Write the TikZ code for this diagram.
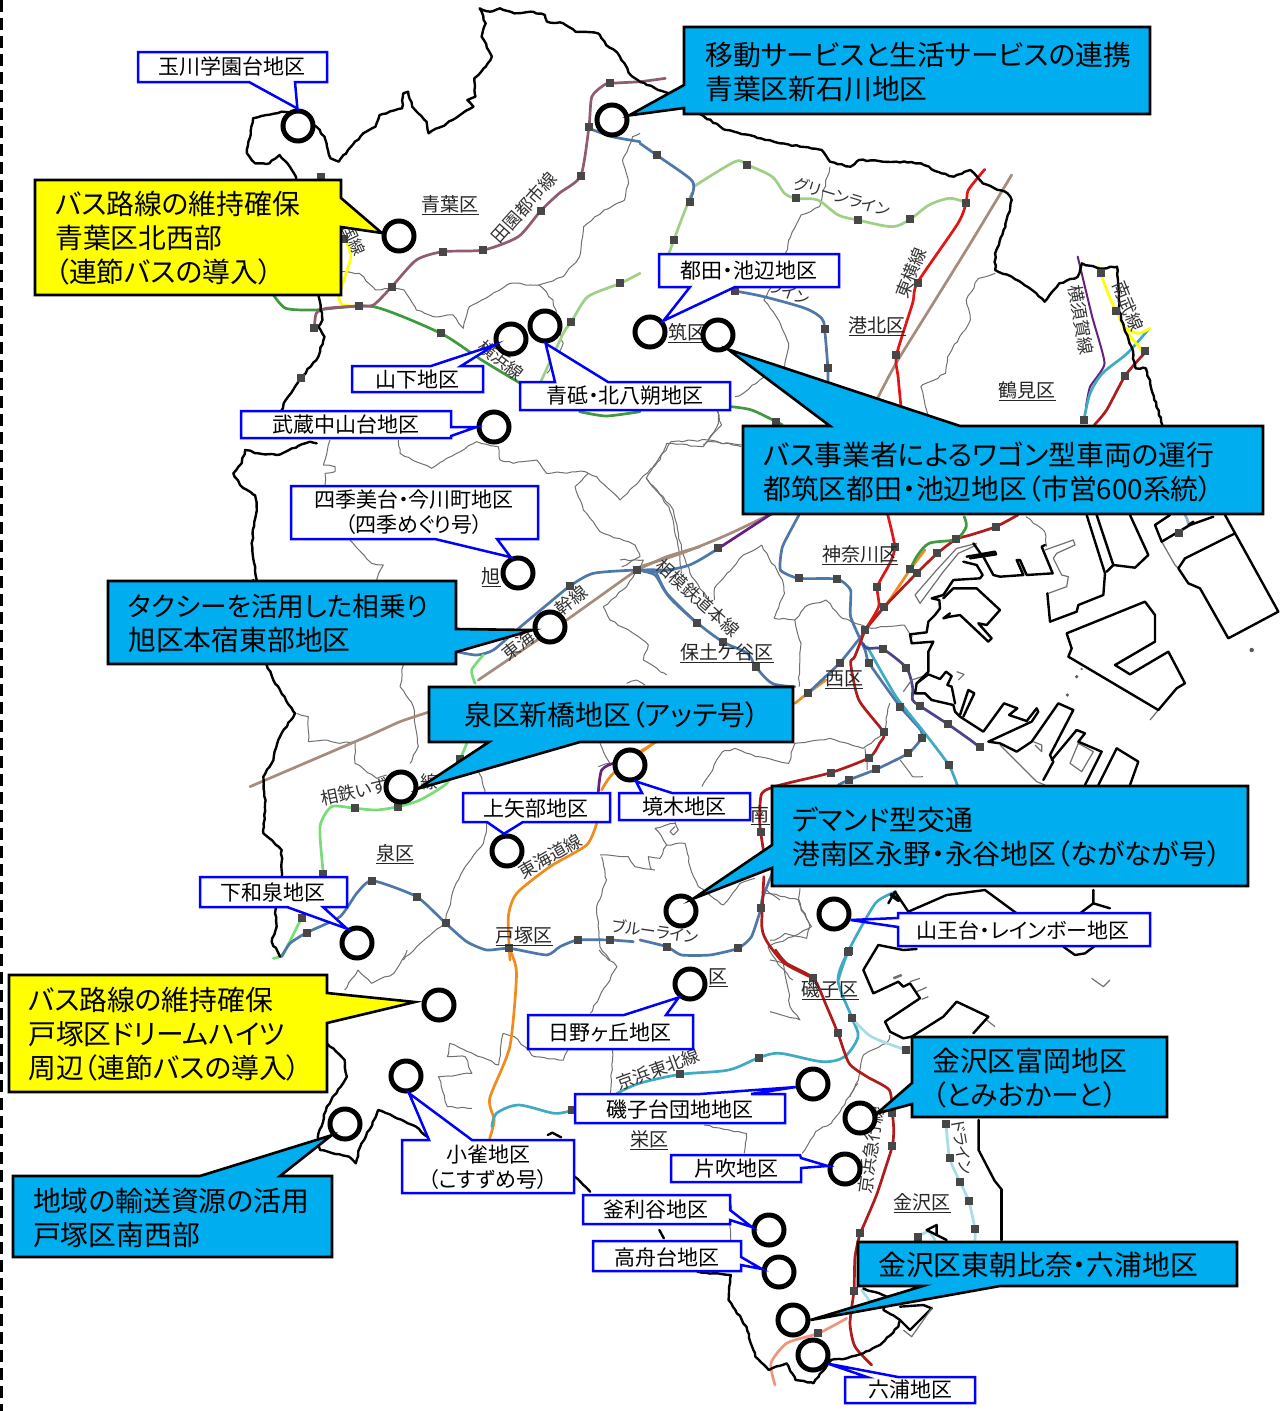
\documentclass[tikz,border=0pt]{standalone}
\usepackage{fontspec}
\usetikzlibrary{decorations.pathmorphing}
\setmainfont{Noto Sans CJK JP}[RawFeature=+palt]
\definecolor{cbl}{HTML}{00AEEF}
\definecolor{cye}{HTML}{FFFF00}
\definecolor{clb}{HTML}{0000FF}
\definecolor{rblue}{HTML}{4F78A8}
\definecolor{rgreen}{HTML}{3F9A3F}
\definecolor{rlgreen}{HTML}{A0D088}
\definecolor{rizu}{HTML}{78DC78}
\definecolor{rred}{HTML}{E01515}
\definecolor{rdred}{HTML}{B01C1C}
\definecolor{rteal}{HTML}{3FAAC4}
\definecolor{rltl}{HTML}{A8DCE6}
\definecolor{rorg}{HTML}{F08C1E}
\definecolor{rbrn}{HTML}{A58C7C}
\definecolor{rden}{HTML}{905C74}
\definecolor{rpur}{HTML}{66207F}
\definecolor{rnav}{HTML}{4A4488}
\definecolor{rcor}{HTML}{F0957F}
\definecolor{wardc}{HTML}{707070}
\tikzset{
 z1/.style={x=0.40816pt,y=-0.33333pt},
 z2/.style={shift={(640,130)},x=0.41294pt,y=-0.33333pt},
 z3/.style={shift={(640,500)},x=0.41294pt,y=-0.33333pt},
 z4/.style={shift={(200,480)},x=0.33333pt,y=-0.33333pt},
 z5/.style={shift={(300,950)},x=0.44643pt,y=-0.33333pt},
 za/.style={shift={(860,515)},x=0.33333pt,y=-0.33333pt},
 zb/.style={shift={(770,880)},x=0.33333pt,y=-0.33333pt},
 zc/.style={shift={(230,410)},x=0.33333pt,y=-0.33333pt},
 zd/.style={shift={(780,1190)},x=0.33333pt,y=-0.33333pt},
 ze/.style={shift={(560,810)},x=0.33333pt,y=-0.33333pt},
 ward/.style={draw=wardc,line width=1pt,line join=round,decorate,decoration={random steps,segment length=5pt,amplitude=0.9pt}},
 gline/.style={draw=wardc,line width=1.2pt,line join=round},
 bound/.style={draw=black,line width=2.4pt,line join=round,line cap=round,decorate,decoration={random steps,segment length=4pt,amplitude=0.8pt}},
 coast/.style={draw=black,line width=2.4pt,line join=round,line cap=round},
 rail/.style={line width=2.7pt,line cap=round,line join=round},
 stn/.style={fill=black!72,draw=none,minimum size=8pt,inner sep=0pt,rectangle},
 maptxt/.style={inner sep=0pt,font=\fontsize{17.5}{17.5}\selectfont,text=black!80},
 kanatxt/.style={inner sep=0pt,font=\fontsize{16}{16}\selectfont,text=black!80},
 wname/.style={inner sep=0pt,font=\fontsize{19}{19}\selectfont,text=black!85},
 ring/.style={circle,draw=black,fill=white,line width=5pt,minimum size=30pt,inner sep=0pt},
 callb/.style={draw=black,fill=cbl,line width=2.6pt,line join=miter},
 cally/.style={draw=black,fill=cye,line width=2.6pt,line join=miter},
 lab/.style={draw=clb,fill=white,line width=2.5pt,line join=miter},
 ctxt/.style={anchor=west,inner sep=0pt,align=left,font=\fontsize{27.8}{34}\selectfont},
 ltxt/.style={inner sep=0pt,align=center,font=\fontsize{21}{25}\selectfont},
}
\newcommand\stns[1]{\foreach \p in {#1}{\node[stn] at \p {};}}
\begin{document}
\begin{tikzpicture}[x=1pt,y=-1pt]
\fill[white] (0,0) rectangle (1285,1411);
\useasboundingbox (0,0) rectangle (1285,1411);
\draw[black,line width=2.6pt,dash pattern=on 12pt off 6pt] (1.5,0) -- (1.5,1411);

% ---- ward boundaries
\begin{scope}[z1]
\draw[ward] (835,815)--(880,820)--(920,870)--(960,865)--(990,870)--(1020,930)--(1060,950)--(1110,945)--(1135,985)--(1150,920)--(1190,895)--(1250,850)--(1320,855)--(1355,900)--(1365,960)--(1380,1030)--(1340,1120);
\draw[ward] (1320,855)--(1380,830)--(1420,770)--(1430,680)--(1480,630)--(1530,600)--(1540,550)--(1525,480)--(1550,410)--(1568,400);
\end{scope}
\begin{scope}[zc]
\draw[ward] (300,90)--(280,165)--(315,170)--(315,185)--(285,190)--(285,225);
\draw[ward] (505,90)--(510,130)--(605,175)--(650,145)--(740,95)--(805,110)--(810,150)--(850,160)--(920,150)--(950,190)--(1065,185)--(1075,190)--(1100,200)--(1170,270)--(1230,210)--(1290,150)--(1310,100)--(1420,110)--(1430,95)--(1535,105);
\draw[ward] (1420,105)--(1475,45)--(1460,0);
\draw[ward] (1075,190)--(1035,230)--(1060,300)--(1110,365)--(1215,405)--(1230,440)--(1175,470);
\draw[ward] (1250,205)--(1330,300)--(1355,420)--(1385,500)--(1430,560);
\draw[ward] (360,390)--(425,460)--(460,465)--(440,510);
\end{scope}
\begin{scope}[z2]
\draw[ward] (460,110)--(435,230)--(390,255)--(360,330)--(350,390)--(300,510)--(330,560)--(360,640)--(350,710)--(290,750)--(250,790)--(230,800);
\draw[ward] (190,845)--(190,880)--(165,930)--(75,935)--(15,1045)--(70,1130)--(90,1230)--(100,1330);
\draw[ward] (165,930)--(245,950);
\draw[ward] (860,430)--(820,445)--(790,510)--(800,570)--(745,680)--(740,730)--(680,770)--(700,880);
\end{scope}
\begin{scope}[z3]
\draw[ward] (295,135)--(250,165)--(180,265)--(180,300);
\draw[ward] (295,135)--(345,240)--(350,280)--(325,355)--(375,360)--(400,320)--(450,300)--(490,355)--(560,385)--(640,375)--(660,410);
\draw[ward] (375,360)--(390,430)--(385,560);
\draw[ward] (935,50)--(980,95)--(985,140);
\draw[ward] (375,730)--(460,715)--(540,745)--(590,700)--(605,610);
\draw[ward] (375,730)--(360,790)--(280,770)--(230,745)--(200,755)--(150,860);
\draw[ward] (545,745)--(550,810);
\draw[ward] (630,780)--(660,830)--(685,830);
\draw[ward] (305,1180)--(350,1190)--(385,1200)--(390,1230)--(415,1280)--(370,1310)--(310,1340)--(340,1400)--(370,1440);
\end{scope}
\begin{scope}[ze]
\draw[ward] (345,35)--(355,60)--(340,75)--(330,65)--(345,50);
\draw[ward] (345,40)--(285,55)--(310,90)--(320,105)--(375,100)--(390,170)--(415,230)--(470,270)--(490,285)--(540,220)--(585,205);
\draw[ward] (320,105)--(300,145)--(265,140)--(275,180);
\draw[ward] (120,135)--(205,140)--(225,170)--(285,180);
\draw[ward] (620,240)--(660,270);
\end{scope}
\begin{scope}[z4]
\draw[ward] (610,555)--(600,620)--(640,680)--(650,760)--(655,800)--(630,850);
\draw[ward] (290,700)--(325,710)--(325,785)--(380,780)--(420,790)--(465,785)--(465,850)--(530,895)--(560,885);
\draw[ward] (1280,610)--(1310,600)--(1335,615);
\draw[ward] (1260,240)--(1330,240)--(1280,320)--(1210,380)--(1230,420)--(1300,460)--(1345,495)--(1330,540)--(1400,585);
\draw[ward] (800,840)--(830,850)--(855,930)--(860,1040)--(850,1090)--(790,1170)--(760,1230)--(735,1330)--(650,1400)--(610,1440);
\draw[ward] (1200,790)--(1230,850)--(1195,860);
\draw[ward] (1205,1130)--(1220,1200)--(1190,1280)--(1200,1400)--(1230,1440);
\end{scope}
\begin{scope}[z5]
\draw[ward] (240,0)--(210,70)--(160,100)--(130,60)--(100,120);
\draw[ward] (670,0)--(710,50)--(650,190);
\draw[ward] (700,300)--(695,430);
\draw[ward] (335,280)--(330,320)--(370,320)--(385,370)--(310,380)--(330,470)--(385,475);
\draw[ward] (335,280)--(445,345)--(455,250)--(480,260)--(525,320)--(590,330)--(600,300);
\draw[ward] (905,525)--(1000,550)--(995,610);
\draw[ward] (1250,400)--(1190,520)--(1155,545)--(1125,610);
\draw[ward] (965,740)--(965,870);
\end{scope}
\begin{scope}[zb]
\draw[ward] (90,25)--(85,60)--(120,140)--(110,175)--(45,160)--(15,180)--(0,180);
\draw[ward] (0,240)--(40,250)--(55,330)--(60,380)--(90,420)--(0,395);
\draw[ward] (360,465)--(350,490)--(280,525)--(265,600)--(240,650);
\end{scope}

% ---- rail lines
\begin{scope}[z2]
\draw[rail,rbrn] plot[smooth,tension=.4] coordinates {(900,135)(800,340)(700,540)(620,700)(575,805)};
\draw[rail,rbrn] plot[smooth,tension=.5] coordinates {(320,1150)(210,1215)(100,1270)(0,1310)};
\draw[rail,rpur] (190,1255)--(320,1150);
\draw[rail,rpur,line width=2pt] plot[smooth,tension=.3] coordinates {(1060,380)(1095,560)(1125,700)(1090,770)(1080,830)};
\draw[rail,rteal] plot[smooth,tension=.5] coordinates {(1230,600)(1180,670)(1120,730)(1090,790)(1075,870)};
\draw[rail,rdred] plot[smooth,tension=.4] coordinates {(1220,672)(1175,737)(1130,840)(1100,885)};
\draw[rail,cye] plot[smooth,tension=.4] coordinates {(1110,410)(1115,430)(1140,510)(1160,560)(1175,600)(1215,660)};
\draw[rail,cye] plot[smooth,tension=.6] coordinates {(1170,590)(1205,610)(1235,595)};
\draw[rail,rlgreen] plot[smooth,tension=.5] coordinates {(130,170)(230,95)(260,105)(320,140)(350,190)(378,205)(430,210)(480,255)(527,270)(610,290)(654,268)(700,225)(750,205)(790,218)};
\draw[rail,rlgreen] plot[smooth,tension=.4] coordinates {(125,190)(100,270)(82,330)(70,370)};
\draw[rail,rblue] plot[smooth,tension=.5] coordinates {(0,40)(40,75)(120,145)(130,175)(120,215)};
\draw[rail,rblue] plot[smooth,tension=.5] coordinates {(230,483)(300,500)(400,535)(440,565)(447,597)(455,715)(455,760)};
\draw[rail,rgreen] plot[smooth,tension=.5] coordinates {(220,830)(270,840)(330,875)(345,885)};
\draw[rail,rred] plot[smooth,tension=.4] coordinates {(835,118)(795,180)(790,218)(770,280)(672,458)(660,520)(621,676)(625,740)(632,830)};
\end{scope}
\begin{scope}[z3]
\draw[rail,rblue] plot[smooth,tension=.5] coordinates {(190,145)(120,195)(40,215)(0,210)};
\draw[rail,rblue] plot[smooth,tension=.5] coordinates {(40,220)(70,290)(138,368)(200,425)(260,460)(280,500)(320,550)(375,560)};
\draw[rail,rblue] plot[smooth,tension=.3] coordinates {(385,45)(345,140)(340,210)(384,235)(478,237)(510,270)(510,350)(545,450)(555,490)(630,620)(680,690)(682,715)(650,760)(572,808)(505,840)(480,855)};
\draw[rail,rblue] plot[smooth,tension=.3] coordinates {(320,1120)(295,1200)(293,1225)(270,1310)(238,1345)(170,1365)(100,1365)(65,1340)(0,1320)};
\draw[rail,rorg] (375,610)--(408,578)--(450,540);
\draw[rail,rblue] (408,578)--(485,488)--(545,395);
\draw[rail,rorg] (40,725)--(0,755);
\draw[rail,rorg] plot[smooth,tension=.3] coordinates {(690,150)(655,207)(610,290)(592,320)(548,385)};
\draw[rail,rdred] plot[smooth,tension=.4] coordinates {(915,45)(862,80)(800,105)(765,118)(720,160)(670,220)(592,320)(548,385)};
\draw[rail,rgreen] plot[smooth,tension=.5] coordinates {(785,50)(790,80)(765,118)(700,130)(670,170)(655,207)};
\draw[rail,rred] plot[smooth,tension=.4] coordinates {(600,45)(617,140)(605,190)(575,260)(578,320)(545,390)};
\draw[rail,rdred] plot[smooth,tension=.4] coordinates {(545,390)(520,470)(510,490)(530,600)(590,697)(580,730)(555,773)(462,818)(340,855)(295,880)(290,960)(292,995)(300,1060)};
\draw[rail,rdred] plot[smooth,tension=.4] coordinates {(300,1130)(295,1280)(310,1330)(350,1390)(420,1435)};
\draw[rail,rteal] plot[smooth,tension=.3] coordinates {(550,440)(620,590)(690,700)(748,795)(770,860)};
\draw[rail,rteal] plot[smooth,tension=.4] coordinates {(620,1175)(570,1210)(505,1352)(480,1440)};
\draw[rail,rnav] plot[smooth,tension=.4] coordinates {(540,430)(550,445)(588,447)(645,503)(660,560)(660,600)(677,617)(745,672)(800,720)(823,742)};
\end{scope}
\begin{scope}[za]
\draw[rail,rblue!60] plot[smooth,tension=.5] coordinates {(975,0)(985,30)(950,55)};
\end{scope}
\begin{scope}[z4]
\draw[rail,rbrn] (1310,270)--(1100,420)--(835,600);
\draw[rail,rbrn] plot[smooth,tension=.3] coordinates {(1500,200)(1400,230)(1310,270)};
\draw[rail,rbrn] plot[smooth,tension=.3] coordinates {(690,695)(600,725)(500,770)(150,920)};
\draw[rail,rblue] plot[smooth,tension=.4] coordinates {(1420,270)(1312,270)(1180,280)(1110,318)(1040,375)(950,450)(880,510)(830,525)(770,515)};
\draw[rail,rblue] plot[smooth,tension=.4] coordinates {(1312,270)(1365,285)(1400,340)(1490,430)};
\draw[rail,rizu] plot[smooth,tension=.4] coordinates {(850,525)(815,570)(825,610)};
\draw[rail,rizu] plot[smooth,tension=.4] coordinates {(800,790)(780,838)(740,910)(660,960)(595,980)(530,990)(465,985)(395,980)(360,1040)(370,1180)};
\draw[rail,rizu] plot[smooth,tension=.4] coordinates {(305,1313)(250,1420)(220,1435)};
\draw[rail,rblue] plot[smooth,tension=.35] coordinates {(1300,1385)(1229,1380)(1133,1380)(1080,1400)(1040,1425)(928,1405)(860,1410)(800,1385)(737,1330)(650,1250)(517,1202)(470,1240)(420,1310)(320,1358)(270,1390)(245,1430)};
\draw[rail,rpur] plot[smooth,tension=.5] coordinates {(1240,850)(1205,870)(1195,935)};
\draw[rail,rorg] plot[smooth,tension=.4] coordinates {(1360,790)(1240,880)(1205,930)};
\draw[rail,rorg] plot[smooth,tension=.4] coordinates {(1190,1030)(1160,1095)(1050,1160)(950,1240)(925,1310)(930,1440)};
\end{scope}
\begin{scope}[z5]
\draw[rail,rorg] plot[smooth,tension=.4] coordinates {(470,0)(485,70)(470,290)(425,445)(435,510)(425,565)};
\draw[rail,rteal] plot[smooth,tension=.5] coordinates {(1228,5)(1205,90)(1237,205)(1250,260)(1220,320)(1170,335)(1075,310)(1028,323)(960,360)(852,373)(760,400)(710,430)};
\draw[rail,rteal] plot[smooth,tension=.5] coordinates {(610,480)(570,490)(490,465)(440,490)(430,530)};
\draw[rail,rltl] plot[smooth,tension=.5] coordinates {(1237,205)(1280,260)(1358,300)};
\draw[rail,rltl] plot[smooth,tension=.3] coordinates {(1447,522)(1455,625)(1478,695)(1498,752)(1512,837)(1512,870)};
\draw[rail,rdred] plot[smooth,tension=.4] coordinates {(1065,0)(1090,40)(1150,85)(1180,170)(1205,250)(1230,340)(1270,380)(1320,420)(1327,490)(1330,540)(1327,587)(1310,660)(1290,740)(1255,850)};
\end{scope}
\begin{scope}[zd]
\draw[rail,rltl] plot[smooth,tension=.5] coordinates {(415,140)(445,125)(465,150)};
\draw[rail,rltl] (245,300)--(270,335);
\draw[rail,rdred] plot[smooth,tension=.4] coordinates {(240,130)(225,200)(222,300)(210,400)(225,470)(275,525)};
\draw[rail,rcor] plot[smooth,tension=.4] coordinates {(200,385)(115,430)(21,459)(-27,519)(-15,585)};
\end{scope}
\begin{scope}[z1]
\draw[rail,cye] plot[smooth,tension=.4] coordinates {(850,730)(860,770)(845,830)(830,890)(840,915)(880,918)};
\draw[rail,rgreen] plot[smooth,tension=.4] coordinates {(670,885)(700,925)(770,930)(915,920)(1080,1000)(1180,1080)(1275,1150)};
\draw[rail,rgreen] plot[smooth,tension=.4] coordinates {(1420,1235)(1485,1248)(1568,1235)};
\draw[rail,rlgreen] plot[smooth,tension=.4] coordinates {(1325,1145)(1380,1000)(1400,965)(1440,890)(1520,850)(1568,820)};
\draw[rail,rden] plot[smooth,tension=.4] coordinates {(770,985)(775,940)(800,925)(880,918)(915,915)(960,860)(1020,780)(1085,755)(1185,750)(1270,710)(1325,632)(1370,580)(1423,527)(1443,380)(1450,290)(1480,255)(1495,250)(1568,245)(1630,235)};
\draw[rail,rblue] plot[smooth,tension=.5] coordinates {(1443,385)(1500,410)(1568,425)};
\end{scope}

% ---- city boundary and coast
\begin{scope}[z1]
\draw[bound] (1568,245)--(1545,225)--(1530,190)--(1510,155)--(1485,135)--(1465,100)--(1410,95)--(1380,70)--(1340,65)--(1335,45)--(1300,35)--(1260,40)--(1225,25)--(1200,35)--(1175,25)--(1190,70)--(1180,110)--(1205,170)--(1185,205)--(1162,235)--(1165,290)--(1145,300)--(1160,320)--(1095,370)--(1050,400)--(1045,365)--(1010,320)--(1000,275)--(988,280)--(985,325)--(930,345)--(920,380)--(890,400)--(860,440)--(830,485)--(810,475)--(795,410)--(775,380)--(730,340)--(690,335)--(620,355)--(605,460)--(625,490)--(660,490)--(685,465)--(710,500)--(725,530)--(760,700)--(780,880)--(790,960)--(780,980)--(795,1010)--(780,1070)--(740,1130)--(700,1200)--(690,1230);
\end{scope}
\begin{scope}[zc]
\draw[bound] (260,100)--(240,95)--(140,135)--(85,130)--(45,120)--(35,160)--(10,190)--(30,225)--(75,255)--(80,290)--(65,400)--(80,510);
\end{scope}
\begin{scope}[z4]
\draw[bound] (160,300)--(200,555)--(220,600)--(260,665)--(285,700)--(240,770)--(215,850)--(190,890)--(195,970)--(190,1060)--(245,1110)--(245,1190)--(225,1300)--(230,1340)--(215,1385)--(240,1430);
\end{scope}
\draw[bound] (640,82)--(684,100)--(700,114)--(726,130);
\begin{scope}[z2]
\draw[bound] (210,0)--(340,40)--(440,60)--(460,95)--(510,110)--(530,90)--(620,95)--(680,100)--(730,130)--(760,140)--(800,120)--(830,160)--(890,190)--(900,210)--(885,290)--(860,370)--(860,420)--(900,440)--(960,490)--(980,515)--(995,490)--(1015,460)--(1060,440)--(1070,400)--(1110,415)--(1155,410)--(1160,530)--(1165,570)--(1190,650)--(1200,715)--(1225,715)--(1265,885);
\end{scope}
\begin{scope}[za]
\draw[gline] (350,85)--(290,100)--(230,165)--(165,240)--(180,265)--(250,170)--(295,115)--(350,90);
\draw[gline] (555,105)--(640,75)--(645,90)--(590,115)--(580,130)--(605,180)--(625,185)--(620,215)--(565,235);
\draw[gline] (895,585)--(870,615);
\draw[gline] (905,80)--(945,150)--(955,160);
\draw[gline] (420,690)--(530,800)--(555,810);
\draw[gline] (655,685)--(700,710)--(665,770)--(630,745)--cycle;
\draw[gline] (520,680)--(545,690)--(545,710)--(525,690);
\draw[gline] (130,530)--(155,495)--(200,480);
\draw[gline] (290,470)--(312,478)--(295,495);
\draw[coast] (310,140)--(350,150)--(368,180)--(360,190)--(280,195)--(250,240)--(215,250)--(238,255)--(240,280)--(225,300)--(205,320)--(200,352)--(150,358)--(155,385)--(220,380)--(205,410)--(205,470)--(170,505)--(165,535)--(195,535)--(215,555)--(280,570)--(285,590)--(300,605)--(370,650)--(432,565)--(472,580)--(447,600)--(500,618)--(530,580)--(535,590)--(515,620)--(450,650)--(385,680)--(420,685)--(470,710)--(515,680)--(595,565)--(640,585)--(570,720)--(580,740)--(550,795);
\draw[coast] (170,505)--(205,478)--(240,492)--(258,470)--(275,483)--(262,510)--(275,515)--(285,565);
\draw[coast] (300,600)--(325,525)--(343,535)--(310,605);
\draw[coast] (250,250)--(280,220)--(350,220)--(420,285)--(380,330)--(355,325)--(395,370)--(385,380)--(300,300)--(270,305)--(250,310)--(270,295);
\draw[coast] (370,125)--(400,180)--(420,185)--(490,180)--(470,135)--(480,135)--(500,180)--(578,175)--(545,95)--(555,90);
\draw[coast] (320,125)--(405,110)--(408,118)--(330,130);
\draw[coast] (340,85)--(365,120);
\draw[coast] (680,0)--(735,175)--(730,240)--(655,270)--(650,290)--(570,320)--(562,235);
\draw[coast] (710,0)--(760,150)--(825,158)--(865,120)--(810,0);
\draw[coast] (740,170)--(760,150);
\draw[coast] (620,355)--(855,260)--(885,300)--(885,380)--(765,450)--(810,478)--(925,410)--(975,505)--(950,520)--(895,585)--(625,425)--(635,400)--cycle;
\draw[coast] (1095,0)--(1255,290)--(1105,370)--(1020,220)--(985,205)--(955,160)--(975,130)--(1125,55);
\draw[coast] (885,30)--(905,80)--(990,30)--(1060,5);
\draw[coast] (885,30)--(930,0);
\draw[coast] (985,30)--(1000,20);
\draw[coast] (650,645)--(675,655)--(655,680)--(725,710)--(675,810);
\draw[coast] (650,645)--(575,735);
\draw[coast] (770,700)--(835,740)--(810,810);
\draw[coast] (770,700)--(715,810);
\fill[black!65] (1175,405) circle (2.2pt) (650,485) circle (1.8pt) (622,540) circle (1.8pt) (665,462) circle (1.2pt);
\end{scope}
\begin{scope}[zb]
\draw[gline] (420,305)--(450,295) (440,335)--(470,322) (455,358)--(475,350) (650,420)--(675,440) (965,295)--(1000,320)--(1020,300);
\draw[gline,line width=2.5pt] (370,295)--(395,285);
\draw[coast] (355,70)--(375,35)--(415,95)--(530,45)--(645,30)--(740,100);
\draw[coast,line width=4pt] (365,45)--(385,60);
\draw[coast] (970,30)--(970,70)--(1020,85);
\draw[coast] (970,70)--(930,100);
\draw[coast] (880,200)--(915,225)--(945,220)--(985,190);
\draw[coast] (440,207)--(400,210)--(325,195)--(280,270)--(310,340)--(385,305)--(400,320)--(420,310)--(450,355)--(345,425)--(360,455)--(400,475)--(425,470)--(520,410)--(560,365)--(655,410)--(610,460);
\end{scope}
\begin{scope}[z5]
\draw[bound] (60,280)--(100,330)--(105,380)--(60,470)--(40,560)--(45,600)--(110,620)--(125,640)--(135,590)--(170,500)--(175,480)--(210,500)--(260,530)--(285,560);
\draw[coast] (555,555)--(565,548)--(585,562);
\draw[bound] (615,680)--(650,725);
\draw[coast] (805,840)--(815,865);
\draw[bound] (890,965)--(965,975)--(960,1050)--(1000,1130)--(1020,1220)--(1050,1260)--(1090,1240)--(1110,1290)--(1150,1300)--(1190,1230);
\draw[coast] (1520,510)--(1520,600)--(1555,690);
\end{scope}
\begin{scope}[zd]
\draw[coast] (665,0)--(665,150);
\draw[coast] (440,120)--(470,105)--(470,135)--(500,150);
\draw[coast] (440,120)--(470,135);
\draw[bound] (250,295)--(320,320)--(310,360)--(360,390)--(355,410)--(300,465)--(250,490)--(200,505)--(150,510);
\draw[coast] (360,350)--(430,345)--(455,355)--(390,420)--(360,390);
\draw[gline] (455,355)--(395,440)--(370,420);
\end{scope}
\draw[coast] (994,1180)--(1002,1190);

% ---- stations
\begin{scope}[z1]
\stns{(770,985),(880,918),(960,860),(1085,755),(1183,750),(1325,632),(1423,527),(1443,380),(1495,250),(787,530),(843,718),(738,1135),(1080,1000),(1400,965),(1520,850)}
\end{scope}
\begin{scope}[z2]
\stns{(40,75),(120,215),(82,330),(260,105),(378,205),(527,270),(654,268),(790,218),(230,483),(447,597),(455,715),(330,875),(672,458),(621,676),(1117,430),(1152,543),(1222,662),(1175,737),(1075,870)}
\end{scope}
\begin{scope}[z3]
\stns{(190,145),(384,235),(478,237),(138,368),(200,425),(280,500),(408,578),(485,488),(545,390),(555,490),(630,620),(682,715),(650,760),(572,808),(505,840),(590,697),(555,773),(462,818),(292,995),(293,1225),(238,1345),(65,1340),(588,447),(645,503),(677,617),(745,672),(823,742),(748,795),(505,1352),(617,140),(575,260),(592,320),(862,80),(765,118),(720,160),(670,220),(655,207),(1305,98)}
\end{scope}
\begin{scope}[z4]
\stns{(1312,270),(1110,318),(780,838),(595,980),(465,985),(370,1183),(305,1313),(320,1358),(517,1202),(650,1250),(737,1330),(928,1405),(1133,1380),(1229,1380)}
\end{scope}
\begin{scope}[z5]
\stns{(1228,5),(1150,85),(1237,205),(1205,250),(1028,323),(852,373),(610,480),(1358,300),(1327,490),(1327,587),(1255,850),(1240,1023),(1160,1148),(1447,522),(1455,625),(1478,695),(1498,752),(1512,837),(1385,860)}
\end{scope}

% ---- map labels
\node[wname] (w1) at (450,205) {\underline{青葉区}};
\node[wname] (w2) at (687,333) {\underline{筑区}};
\node[wname] (w3) at (877,326) {\underline{港北区}};
\node[wname] (w4) at (1027,391) {\underline{鶴見区}};
\node[wname] (w5) at (860,555) {\underline{神奈川区}};
\node[wname] (w6) at (727,653) {\underline{保土ケ谷区}};
\node[wname] (w7) at (844,680) {\underline{西区}};
\node[wname] (w8) at (491,577) {\underline{旭}};
\node[wname] (w9) at (395,854) {\underline{泉区}};
\node[wname] (w10) at (524,936) {\underline{戸塚区}};
\node[wname] (w11) at (760,815) {\underline{南}};
\node[wname] (w12) at (718,978) {\underline{区}};
\node[wname] (w13) at (830,990) {\underline{磯子区}};
\node[wname] (w14) at (649,1140) {\underline{栄区}};
\node[wname] (w15) at (922,1203) {\underline{金沢区}};
\node[maptxt,rotate=48] (m1) at (524,208) {田園都市線};
\node[kanatxt,rotate=-17] (m2) at (842,197) {グリーンライン};
\node[maptxt,rotate=68] (m3) at (911,273) {東横線};
\node[maptxt,rotate=-80] (m4) at (1081,320) {横須賀線};
\node[maptxt,rotate=-68] (m5) at (1128,306) {南武線};
\node[maptxt,rotate=-38] (m6) at (501,360) {横浜線};
\node[kanatxt,rotate=-20] (m7) at (789,293) {ライン};
\node[maptxt,rotate=-42] (m8) at (698,598) {相模鉄道本線};
\node[maptxt,rotate=38] (m9) at (518,645) {東海};
\node[maptxt,rotate=38] (m10) at (571,600) {幹線};
\node[maptxt,rotate=12] (m11) at (354,792) {相鉄いず};
\node[maptxt] (m12) at (429,782) {線};
\node[maptxt,rotate=30] (m13) at (550,856) {東海道線};
\node[kanatxt,rotate=-8] (m14) at (655,931) {ブルーライン};
\node[maptxt,rotate=20] (m15) at (658,1069) {京浜東北線};
\node[maptxt,rotate=82] (m16) at (871,1150) {京浜急行線};
\node[kanatxt,rotate=-80] (m17) at (962,1147) {ドライン};
\node[kanatxt,rotate=-65] (m18) at (354,240) {国線};

% ---- circles
\node[ring] (c1) at (298,126) {};
\node[ring] (c2) at (612,120) {};
\node[ring] (c3) at (399,236) {};
\node[ring] (c4) at (545,326) {};
\node[ring] (c5) at (511,339) {};
\node[ring] (c6) at (650,332) {};
\node[ring] (c7) at (718,335) {};
\node[ring] (c8) at (494,427) {};
\node[ring] (c9) at (518,573) {};
\node[ring] (c10) at (550,627) {};
\node[ring] (c11) at (401,787) {};
\node[ring] (c12) at (630,765) {};
\node[ring] (c13) at (507,851) {};
\node[ring] (c14) at (681,911) {};
\node[ring] (c15) at (834,914) {};
\node[ring] (c16) at (357,943) {};
\node[ring] (c17) at (690,984) {};
\node[ring] (c18) at (439,1005) {};
\node[ring] (c19) at (406,1076) {};
\node[ring] (c20) at (813,1084) {};
\node[ring] (c21) at (860,1118) {};
\node[ring] (c22) at (345,1124) {};
\node[ring] (c23) at (845,1169) {};
\node[ring] (c24) at (769,1230) {};
\node[ring] (c25) at (779,1272) {};
\node[ring] (c26) at (793,1320) {};
\node[ring] (c27) at (813,1355) {};

% ---- small blue labels
\draw[lab] (138,52)--(327,52)--(327,82)--(295,82)--(c1.92)--(249,82)--(138,82)--cycle;
\node[ltxt] (t1) at (232,67) {玉川学園台地区};
\draw[lab] (659,254)--(839,254)--(839,287)--(735,287)--(c6.40)--(690,287)--(659,287)--cycle;
\node[ltxt] (t2) at (749,271) {都田・池辺地区};
\draw[lab] (352,366)--(431,366)--(c5.200)--(461,366)--(483,366)--(483,392)--(352,392)--cycle;
\node[ltxt] (t3) at (417,380) {山下地区};
\draw[lab] (520,382)--(555,382)--(c4.272)--(608,382)--(730,382)--(730,410)--(520,410)--cycle;
\node[ltxt] (t4) at (625,396) {青砥・北八朔地区};
\draw[lab] (241,411)--(451,411)--(451,427)--(c8.180)--(451,436)--(451,438)--(241,438)--cycle;
\node[ltxt] (t5) at (346,425) {武蔵中山台地区};
\draw[lab] (291,486)--(538,486)--(538,539)--(497,539)--(c9.115)--(435,539)--(291,539)--cycle;
\node[ltxt] (t6) at (414,512) {四季美台・今川町地区\\（四季めぐり号）};
\draw[lab] (463,793)--(610,793)--(610,822)--(523,822)--(c13.100)--(487,822)--(463,822)--cycle;
\node[ltxt] (t7) at (536,808) {上矢部地区};
\draw[lab] (619,793)--(642,793)--(c12.-70)--(672,793)--(750,793)--(750,820)--(619,820)--cycle;
\node[ltxt] (t8) at (684,807) {境木地区};
\draw[lab] (200,877)--(347,877)--(347,907)--(323,907)--(c16.125)--(287,907)--(200,907)--cycle;
\node[ltxt] (t9) at (273,892) {下和泉地区};
\draw[lab] (898,913)--(1150,913)--(1150,946)--(898,946)--(898,927)--(c15.-20)--(898,918)--cycle;
\node[ltxt] (t10) at (1023,930) {山王台・レインボー地区};
\draw[lab] (528,1015)--(624,1015)--(c17.-130)--(666,1015)--(693,1015)--(693,1049)--(528,1049)--cycle;
\node[ltxt] (t11) at (610,1033) {日野ヶ丘地区};
\draw[lab] (575,1094)--(700,1094)--(c20.-170)--(751,1094)--(785,1094)--(785,1123)--(575,1123)--cycle;
\node[ltxt] (t12) at (680,1109) {磯子台団地地区};
\draw[lab] (402,1140)--(429,1140)--(c19.-80)--(472,1140)--(574,1140)--(574,1193)--(402,1193)--cycle;
\node[ltxt] (t13) at (488,1167) {小雀地区\\（こすずめ号）};
\draw[lab] (671,1155)--(800,1155)--(801,1158)--(c23.170)--(801,1168)--(801,1182)--(671,1182)--cycle;
\node[ltxt] (t14) at (736,1169) {片吹地区};
\draw[lab] (583,1195)--(730,1195)--(730,1210)--(c24.170)--(730,1220)--(730,1224)--(583,1224)--cycle;
\node[ltxt] (t15) at (656,1210) {釜利谷地区};
\draw[lab] (593,1241)--(741,1241)--(741,1257)--(c25.170)--(741,1265)--(741,1271)--(593,1271)--cycle;
\node[ltxt] (t16) at (667,1257) {高舟台地区};
\draw[lab] (845,1377)--(867,1377)--(c27.-30)--(898,1377)--(975,1377)--(975,1403)--(845,1403)--cycle;
\node[ltxt] (t17) at (910,1390) {六浦地区};

% ---- callouts
\coordinate (tipy2) at (415,1002);
\draw[callb] (684,27)--(1150,27)--(1150,114)--(684,114)--(684,108)--(c2.15)--(684,85)--cycle;
\node[ctxt] (b1) at (705,72) {移動サービスと生活サービスの連携\\青葉区新石川地区};
\draw[cally] (35,180)--(341,180)--(341,198)--(c3.170)--(341,227)--(341,295)--(35,295)--cycle;
\node[ctxt] (y1) at (55,238) {バス路線の維持確保\\青葉区北西部\\（連節バスの導入）};
\draw[callb] (743,426)--(830,426)--(c7.-55)--(960,426)--(1263,426)--(1263,514)--(743,514)--cycle;
\node[ctxt] (b2) at (763,472) {バス事業者によるワゴン型車両の運行\\都筑区都田・池辺地区（市営600系統）};
\draw[callb] (108,581)--(456,581)--(456,629)--(c10.190)--(456,652)--(456,664)--(108,664)--cycle;
\node[ctxt] (b3) at (128,623) {{\fontsize{26.7}{34}\selectfont タクシーを活用した相乗り}\\旭区本宿東部地区};
\draw[callb] (429,687)--(793,687)--(793,742)--(580,742)--(c11.-5)--(489,742)--(429,742)--cycle;
\node[ctxt] (b4) at (464,715) {泉区新橋地区（アッテ号）};
\draw[callb] (772,786)--(1248,786)--(1248,886)--(772,886)--(772,868)--(c14.45)--(772,845)--cycle;
\node[ctxt] (b5) at (792,837) {デマンド型交通\\港南区永野・永谷地区（ながなが号）};
\draw[cally] (9,975)--(327,975)--(327,993)--(tipy2)--(327,1023)--(327,1092)--(9,1092)--cycle;
\node[ctxt] (y2) at (28,1034) {バス路線の維持確保\\戸塚区ドリームハイツ\\周辺（連節バスの導入）};
\draw[callb] (912,1037)--(1167,1037)--(1167,1117)--(912,1117)--(912,1104)--(c21.15)--(912,1083)--cycle;
\node[ctxt] (b6) at (932,1078) {金沢区富岡地区\\（とみおかーと）};
\draw[callb] (13,1176)--(200,1176)--(c22.220)--(280,1176)--(332,1176)--(332,1257)--(13,1257)--cycle;
\node[ctxt] (b7) at (33,1218) {地域の輸送資源の活用\\戸塚区南西部};
\draw[callb] (858,1242)--(1237,1242)--(1237,1286)--(1000,1286)--(c26.0)--(923,1286)--(858,1286)--cycle;
\node[ctxt] (b8) at (878,1265) {金沢区東朝比奈・六浦地区};
\end{tikzpicture}
\end{document}
